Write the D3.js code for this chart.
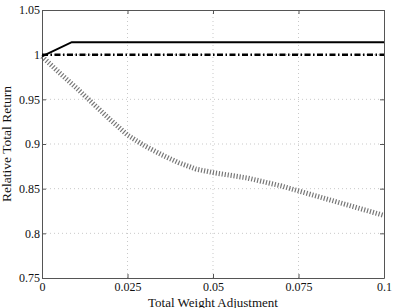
<!DOCTYPE html>
<html>
<head>
<meta charset="utf-8">
<script src="https://cdn.jsdelivr.net/npm/d3@7"></script>
<style>
  body { margin: 0; background: #fff; }
</style>
</head>
<body>
<div id="chart"></div>
<script>
// tick labels
var xTicks = [0, 0.025, 0.05, 0.075, 0.1];
var xTickLabels = ["0", "0.025", "0.05", "0.075", "0.1"];
var yTicks = [0.75, 0.8, 0.85, 0.9, 0.95, 1, 1.05];
var yTickLabels = ["0.75", "0.8", "0.85", "0.9", "0.95", "1", "1.05"];

// solid black line
var solidX = [0, 0.0087, 0.1];
var solidY = [0.998, 1.014, 1.014];

// dash-dot line
var dashX = [0, 0.1];
var dashY = [1, 1];

// grey hatched line
var hatchX = [0, 0.005, 0.01, 0.015, 0.02, 0.025, 0.03, 0.035, 0.04, 0.045, 0.05, 0.06, 0.07, 0.08, 0.09, 0.1];
var hatchY = [0.998, 0.980, 0.963, 0.945, 0.927, 0.910, 0.898, 0.888, 0.879, 0.872, 0.868, 0.862, 0.853, 0.842, 0.831, 0.820];

var width = 395, height = 308;
var margin = { top: 10, right: 11, bottom: 30, left: 42 };
var serif = "Liberation Serif";

var svg = d3.select("#chart").append("svg")
  .attr("width", width)
  .attr("height", height);

var x = d3.scaleLinear().domain([0, 0.1]).range([margin.left, width - margin.right]);
var y = d3.scaleLinear().domain([0.75, 1.05]).range([height - margin.bottom, margin.top]);

// grid
svg.append("g")
  .selectAll("line.gx")
  .data(xTicks.slice(1, -1))
  .enter().append("line")
  .attr("x1", function (d) { return x(d); })
  .attr("x2", function (d) { return x(d); })
  .attr("y1", y(0.75)).attr("y2", y(1.05))
  .attr("stroke", "#bbb").attr("stroke-width", 0.8)
  .attr("stroke-dasharray", "1,3");

svg.append("g")
  .selectAll("line.gy")
  .data(yTicks.slice(1, -1))
  .enter().append("line")
  .attr("y1", function (d) { return y(d); })
  .attr("y2", function (d) { return y(d); })
  .attr("x1", x(0)).attr("x2", x(0.1))
  .attr("stroke", "#bbb").attr("stroke-width", 0.8)
  .attr("stroke-dasharray", "1,3");

// axes
var xAxis = d3.axisBottom(x).tickValues(xTicks)
  .tickFormat(function (d, i) { return xTickLabels[i]; })
  .tickSizeInner(-4).tickSizeOuter(0).tickPadding(4);
var yAxis = d3.axisLeft(y).tickValues(yTicks)
  .tickFormat(function (d, i) { return yTickLabels[i]; })
  .tickSizeInner(-4).tickSizeOuter(0).tickPadding(2);
var xTop = d3.axisTop(x).tickValues(xTicks).tickFormat("").tickSizeInner(-4).tickSizeOuter(0);
var yRight = d3.axisRight(y).tickValues(yTicks).tickFormat("").tickSizeInner(-4).tickSizeOuter(0);

function styleAxis(g) {
  g.attr("font-family", serif).attr("font-size", 12);
  g.selectAll("path").attr("stroke", "#555");
  g.selectAll("line").attr("stroke", "#555");
  g.selectAll("text")
    .attr("fill", "#111")
    .attr("font-family", serif)
    .attr("font-size", 12);
}

svg.append("g").attr("transform", "translate(0," + y(0.75) + ")").call(xAxis).call(styleAxis);
svg.append("g").attr("transform", "translate(" + x(0) + ",0)").call(yAxis).call(styleAxis);
svg.append("g").attr("transform", "translate(0," + y(1.05) + ")").call(xTop).call(styleAxis);
svg.append("g").attr("transform", "translate(" + x(0.1) + ",0)").call(yRight).call(styleAxis);

// lines
var line = d3.line()
  .x(function (d) { return x(d[0]); })
  .y(function (d) { return y(d[1]); });

svg.append("path")
  .datum(d3.zip(hatchX, hatchY))
  .attr("d", line)
  .attr("fill", "none")
  .attr("stroke", "#777")
  .attr("stroke-width", 5)
  .attr("stroke-dasharray", "1.2,1.8");

svg.append("path")
  .datum(d3.zip(dashX, dashY))
  .attr("d", line)
  .attr("fill", "none")
  .attr("stroke", "#000")
  .attr("stroke-width", 2.5)
  .attr("stroke-dasharray", "6,2.5,1.5,2.5");

svg.append("path")
  .datum(d3.zip(solidX, solidY))
  .attr("d", line)
  .attr("fill", "none")
  .attr("stroke", "#000")
  .attr("stroke-width", 2);

// titles
svg.append("text")
  .attr("x", (x(0) + x(0.1)) / 2)
  .attr("y", height - 1.5)
  .attr("text-anchor", "middle")
  .attr("font-family", serif)
  .attr("font-size", 13)
  .attr("fill", "#111")
  .text("Total Weight Adjustment");

svg.append("text")
  .attr("transform", "translate(11," + (y(0.9)) + ") rotate(-90)")
  .attr("text-anchor", "middle")
  .attr("font-family", serif)
  .attr("font-size", 13.5)
  .attr("fill", "#111")
  .text("Relative Total Return");
</script>
</body>
</html>
